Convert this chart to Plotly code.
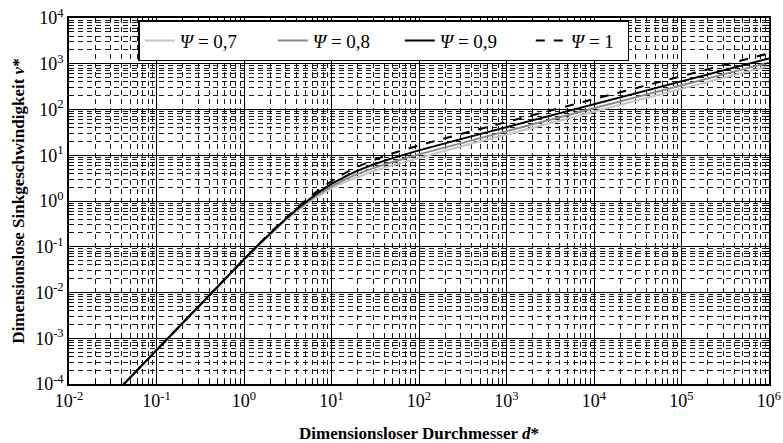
import plotly.graph_objects as go

# Dimensionsloser Durchmesser d*
d_star = [0.04, 0.1, 0.3, 0.5, 1, 1.5, 2, 3, 4, 5, 7, 10, 15, 20, 30, 50, 100, 300,
          1e3, 3e3, 1e4, 3e4, 1e5, 3e5, 1e6]

# Dimensionslose Sinkgeschwindigkeit v*
v_psi_07 = [8.89e-5, 5.545e-4, 4.95e-3, 0.01359, 0.0523, 0.1122, 0.1891, 0.378, 0.5945, 0.821,
            1.268, 1.879, 2.72, 3.40, 4.476, 6.07, 8.83, 15.5, 28.4, 49.2, 89.8, 155.5, 283.8, 491.6, 898]
v_psi_08 = [8.89e-5, 5.546e-4, 4.957e-3, 0.01364, 0.0528, 0.1141, 0.1936, 0.393, 0.627, 0.877,
            1.384, 2.096, 3.10, 3.92, 5.22, 7.14, 10.44, 18.36, 33.6, 58.3, 106.4, 184.3, 336.5, 582.9, 1064]
v_psi_09 = [8.89e-5, 5.548e-4, 4.965e-3, 0.01368, 0.0533, 0.1159, 0.1984, 0.4095, 0.6633, 0.941,
            1.523, 2.37, 3.60, 4.63, 6.26, 8.66, 12.77, 22.5, 41.3, 71.6, 130.7, 226.3, 413.2, 715.7, 1307]
v_psi_10 = [8.89e-5, 5.55e-4, 4.973e-3, 0.01373, 0.0538, 0.1179, 0.2033, 0.427, 0.704, 1.016,
            1.693, 2.726, 4.30, 5.65, 7.82, 11.02, 16.42, 29.1, 53.5, 92.7, 169.2, 293.1, 535.1, 926.9, 1692]

# Tick labels (decade exponents)
x_exponents = [-2, -1, 0, 1, 2, 3, 4, 5, 6]
y_exponents = [-4, -3, -2, -1, 0, 1, 2, 3, 4]
minor_digits = [2, 3, 4, 5, 6, 7, 8, 9]

series = [
    ("<i>Ψ</i> = 0,7", v_psi_07, "#c4c4c4", "solid", 88),
    ("<i>Ψ</i> = 0,8", v_psi_08, "#8a8a8a", "solid", 82),
    ("<i>Ψ</i> = 0,9", v_psi_09, "#000000", "solid", 86),
    ("<i>Ψ</i> = 1", v_psi_10, "#000000", "dash", 52),
]

FONT = "Liberation Serif"

fig = go.Figure()
for name, vals, color, dash, lw in series:
    fig.add_trace(go.Scatter(x=d_star, y=vals, mode="lines", name=name,
                             legendwidth=lw,
                             line=dict(color=color, width=2, dash=dash)))


def axis_common(exps):
    return dict(
        type="log",
        tickmode="array",
        tickvals=[10.0 ** e for e in exps],
        ticktext=["10<sup>%d</sup>" % e for e in exps],
        ticklabeloverflow="allow",
        automargin=False,
        showline=True, linecolor="black", linewidth=1.5, mirror="ticks",
        ticks="inside", ticklen=5, tickcolor="black",
        showgrid=True, gridcolor="black", gridwidth=1,
        zeroline=False,
        tickfont=dict(family=FONT, size=18, color="black"),
        minor=dict(tickmode="array",
                   tickvals=[k * 10.0 ** e for e in exps[:-1] for k in minor_digits],
                   ticks="inside", ticklen=3, tickcolor="black", showgrid=True,
                   gridcolor="#1a1a1a", gridwidth=1, griddash="5px,4px"),
    )


fig.update_layout(
    width=783, height=443,
    margin=dict(l=69, r=14, t=18, b=59),
    paper_bgcolor="white", plot_bgcolor="white",
    font=dict(family=FONT, color="black"),
    xaxis=dict(axis_common(x_exponents), range=[-2, 6],
               title=dict(text="<b>Dimensionsloser Durchmesser <i>d</i>*</b>",
                          font=dict(family=FONT, size=17), standoff=17)),
    yaxis=dict(axis_common(y_exponents), range=[-4, 4],
               title=dict(text="<b>Dimensionslose Sinkgeschwindigkeit <i>v</i>*</b>",
                          font=dict(family=FONT, size=17), standoff=6)),
    legend=dict(orientation="h", x=0.099, y=0.994, xanchor="left", yanchor="top",
                bgcolor="white", bordercolor="black", borderwidth=1.5,
                font=dict(family=FONT, size=19, color="black"),
                tracegroupgap=0),
    showlegend=True,
)

fig.write_html("out.html")
